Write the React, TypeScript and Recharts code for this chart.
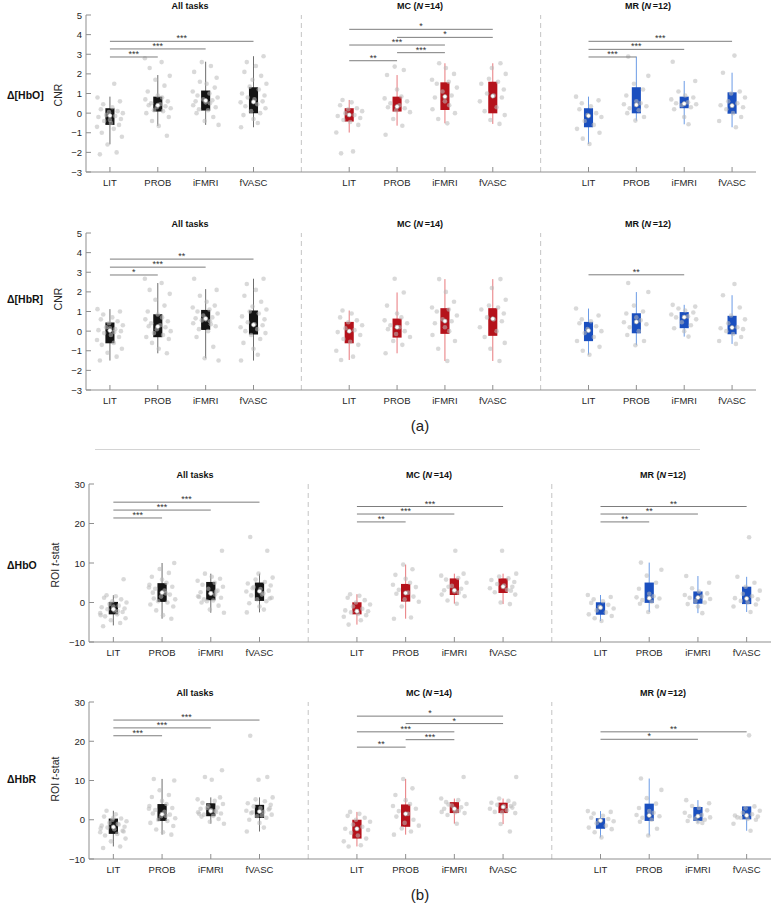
import React from 'react';
import { ComposedChart, XAxis, YAxis, Scatter, ReferenceLine, ReferenceArea } from 'recharts';

const FONT = '"Liberation Sans", Arial, Helvetica, sans-serif';
const CATEGORIES = ['LIT', 'PROB', 'iFMRI', 'fVASC'];
const GROUP_TITLES = [
  { name: 'All tasks', n: null },
  { name: 'MC', n: 14 },
  { name: 'MR', n: 12 },
];
const CNR_TICKS = [-3, -2, -1, 0, 1, 2, 3, 4, 5];
const TSTAT_TICKS = [-10, 0, 10, 20, 30];
const JITTER = [-0.21, 0.14, -0.05, 0.25, -0.17, 0.08, -0.27, 0.19, 0.02, -0.12, 0.23, -0.24, 0.11, -0.08, 0.27, -0.02, 0.16, -0.19, 0.05, -0.14, 0.21, -0.26, 0.09, 0.0];

// box stats [whiskerLow, q1, median, q3, whiskerHigh]; order All(LIT,PROB,iFMRI,fVASC), MC(...), MR(...)
const HBO_CNR_BOX = [
  [-1.59, -0.6, -0.13, 0.25, 0.84], [-0.65, 0.08, 0.4, 0.84, 1.94], [-0.6, 0.13, 0.64, 1.15, 2.62], [-0.72, -0.01, 0.57, 1.32, 2.9],
  [-0.99, -0.43, -0.09, 0.25, 0.67], [-0.64, 0.08, 0.33, 0.84, 1.94], [-0.52, 0.16, 0.84, 1.57, 2.54], [-0.55, -0.01, 0.87, 1.6, 2.54],
  [-1.57, -0.72, -0.14, 0.25, 0.84], [-0.38, -0.01, 0.42, 1.32, 2.88], [-0.57, 0.25, 0.48, 0.84, 1.64], [-0.72, -0.03, 0.38, 1.06, 2.06],
];
const HBO_CNR_PTS = [
  [-2.1, -2.0, -1.6, -1.2, -1.0, -0.8, -0.7, -0.6, -0.5, -0.4, -0.3, -0.2, -0.15, -0.1, 0.0, 0.05, 0.1, 0.2, 0.3, 0.45, 0.6, 0.8, 1.5, -0.35],
  [-1.15, -0.65, -0.4, -0.2, 0.0, 0.1, 0.15, 0.25, 0.3, 0.35, 0.4, 0.45, 0.5, 0.6, 0.7, 0.8, 0.9, 1.1, 1.4, 1.7, 1.9, 2.3, 2.6, 2.8],
  [-0.6, -0.4, -0.2, 0.0, 0.15, 0.2, 0.3, 0.4, 0.5, 0.55, 0.6, 0.65, 0.7, 0.8, 0.9, 1.0, 1.1, 1.3, 1.5, 1.6, 1.8, 2.1, 2.4, 2.6],
  [-0.72, -0.5, -0.3, -0.1, 0.0, 0.1, 0.25, 0.35, 0.45, 0.55, 0.6, 0.7, 0.8, 0.9, 1.0, 1.2, 1.35, 1.5, 1.7, 1.9, 2.1, 2.4, 2.6, 2.9],
  [-2.05, -1.95, -0.99, -0.6, -0.45, -0.35, -0.25, -0.15, -0.1, 0.0, 0.1, 0.2, 0.25, 0.4, 0.55, 0.67],
  [-1.1, -0.64, -0.3, 0.05, 0.15, 0.25, 0.3, 0.4, 0.5, 0.6, 0.75, 0.85, 1.2, 1.94, 2.2, 2.37],
  [-0.52, -0.3, 0.0, 0.2, 0.4, 0.6, 0.8, 0.9, 1.1, 1.3, 1.5, 1.6, 1.7, 2.0, 2.3, 2.54],
  [-0.55, -0.35, -0.1, 0.1, 0.3, 0.6, 0.8, 0.9, 1.0, 1.2, 1.5, 1.6, 1.75, 2.0, 2.3, 2.54],
  [-1.57, -1.3, -1.0, -0.8, -0.6, -0.4, -0.2, -0.1, 0.0, 0.2, 0.35, 0.5, 0.65, 0.84],
  [-0.38, -0.2, 0.0, 0.15, 0.25, 0.35, 0.45, 0.5, 0.6, 0.9, 1.2, 1.5, 1.9, 2.88],
  [-0.57, -0.2, 0.2, 0.3, 0.4, 0.45, 0.5, 0.55, 0.7, 0.8, 0.9, 1.1, 1.64, 2.62],
  [-0.72, -0.4, -0.2, 0.0, 0.2, 0.3, 0.4, 0.5, 0.6, 0.8, 1.0, 1.1, 2.06, 2.93],
];
// significance [group, fromCategory, toCategory, y, label]
const HBO_CNR_SIG = [
  [0, 0, 1, 2.86, '***'], [0, 0, 2, 3.27, '***'], [0, 0, 3, 3.66, '***'],
  [1, 0, 1, 2.67, '**'], [1, 1, 2, 3.08, '***'], [1, 0, 2, 3.47, '***'], [1, 1, 3, 3.86, '*'], [1, 0, 3, 4.27, '*'],
  [2, 0, 1, 2.86, '***'], [2, 0, 2, 3.25, '***'], [2, 0, 3, 3.66, '***'],
];

const HBR_CNR_BOX = [
  [-1.5, -0.62, 0.03, 0.44, 1.12], [-1.13, -0.31, 0.23, 0.86, 2.45], [-1.38, 0.06, 0.64, 1.08, 2.14], [-1.5, -0.17, 0.32, 1.05, 2.67],
  [-1.47, -0.62, 0.0, 0.47, 1.05], [-1.13, -0.33, 0.2, 0.64, 1.97], [-1.52, -0.14, 0.51, 1.17, 2.65], [-1.52, -0.24, 0.63, 1.17, 2.65],
  [-1.2, -0.51, 0.03, 0.47, 1.15], [-0.72, -0.11, 0.47, 0.91, 1.99], [-0.28, 0.15, 0.71, 0.97, 1.34], [-0.65, -0.16, 0.18, 0.78, 1.83],
];
const HBR_CNR_PTS = [
  [-1.5, -1.3, -1.1, -0.9, -0.7, -0.6, -0.45, -0.3, -0.2, -0.1, 0.0, 0.05, 0.1, 0.2, 0.3, 0.4, 0.5, 0.6, 0.7, 0.85, 1.0, 1.12, -0.05, 0.15],
  [-1.13, -0.9, -0.6, -0.4, -0.3, -0.2, -0.1, 0.0, 0.1, 0.2, 0.25, 0.3, 0.4, 0.5, 0.6, 0.7, 0.85, 1.0, 1.3, 1.6, 1.9, 2.1, 2.45, 2.67],
  [-1.5, -1.38, -0.8, -0.3, 0.0, 0.1, 0.25, 0.4, 0.5, 0.6, 0.65, 0.7, 0.8, 0.9, 1.0, 1.1, 1.2, 1.3, 1.5, 1.8, 2.1, 2.67, 0.35, 0.55],
  [-1.5, -1.2, -0.9, -0.6, -0.4, -0.2, -0.1, 0.0, 0.1, 0.2, 0.3, 0.35, 0.45, 0.6, 0.75, 0.9, 1.0, 1.1, 1.25, 1.5, 1.8, 2.1, 2.4, 2.67],
  [-1.47, -1.3, -1.0, -0.7, -0.55, -0.4, -0.2, -0.05, 0.05, 0.15, 0.3, 0.45, 0.55, 0.7, 0.9, 1.05],
  [-1.13, -0.7, -0.5, -0.3, -0.15, 0.0, 0.1, 0.2, 0.3, 0.4, 0.55, 0.7, 0.9, 1.3, 1.97, 2.67],
  [-1.52, -0.9, -0.5, -0.2, 0.0, 0.2, 0.4, 0.5, 0.6, 0.8, 1.0, 1.1, 1.2, 1.5, 2.0, 2.65],
  [-1.52, -0.9, -0.6, -0.3, 0.0, 0.2, 0.5, 0.6, 0.7, 0.9, 1.1, 1.2, 1.3, 1.6, 2.2, 2.65],
  [-1.2, -1.0, -0.8, -0.5, -0.3, -0.1, 0.0, 0.1, 0.25, 0.4, 0.5, 0.6, 0.8, 1.15],
  [-0.72, -0.5, -0.2, 0.0, 0.2, 0.35, 0.45, 0.55, 0.7, 0.9, 1.0, 1.3, 1.99, 2.45],
  [-0.28, 0.0, 0.15, 0.3, 0.45, 0.6, 0.7, 0.75, 0.85, 0.95, 1.05, 1.15, 1.25, 1.34],
  [-0.65, -0.5, -0.3, -0.15, 0.0, 0.1, 0.15, 0.2, 0.4, 0.6, 0.8, 1.2, 1.83, 2.4],
];
const HBR_CNR_SIG = [
  [0, 0, 1, 2.86, '*'], [0, 0, 2, 3.26, '***'], [0, 0, 3, 3.67, '**'],
  [2, 0, 2, 2.87, '**'],
];

const HBO_T_BOX = [
  [-5.8, -3.0, -1.7, 0.15, 1.84], [-4.1, 0.15, 2.5, 4.9, 10], [-2.6, 0.57, 2.3, 5.2, 7.3], [-2.5, 0.4, 2.85, 5.05, 7.3],
  [-5.6, -3.0, -2.2, 0.06, 2.1], [-4.1, 0.23, 2.4, 4.7, 9.6], [-0.3, 1.9, 3.1, 6.1, 7.3], [-0.4, 2.4, 4.0, 6.1, 7.3],
  [-4.7, -3.1, -1.3, 0.06, 1.9], [-2.4, -0.1, 1.1, 5.05, 10.1], [-2.7, -0.3, 1.25, 2.8, 6.7], [-2.4, -0.4, 1.0, 4.0, 6.5],
];
const HBO_T_PTS = [
  [-6.0, -5.2, -4.5, -4.0, -3.5, -3.0, -2.7, -2.4, -2.0, -1.7, -1.5, -1.2, -0.8, -0.4, 0.0, 0.3, 0.8, 1.2, 1.6, 1.84, 5.9, -3.2, -2.2, -1.0],
  [-4.1, -3.2, -2.0, -1.0, -0.5, 0.0, 0.3, 0.8, 1.5, 2.0, 2.5, 3.0, 3.5, 4.0, 4.5, 5.0, 5.8, 6.5, 7.5, 8.5, 10.0, 1.0, 2.3, 3.8],
  [-2.6, -1.8, -0.8, 0.0, 0.5, 0.8, 1.2, 1.6, 2.0, 2.3, 2.6, 3.0, 3.5, 4.0, 4.5, 5.0, 5.5, 6.0, 6.5, 7.3, 13.1, 1.4, 2.8, 0.3],
  [-2.5, -1.8, -1.0, -0.2, 0.3, 0.8, 1.2, 1.8, 2.3, 2.8, 3.0, 3.4, 3.9, 4.3, 4.8, 5.2, 5.8, 6.3, 7.3, 13.1, 16.6, 2.0, 3.6, 1.0],
  [-5.6, -4.5, -3.6, -3.2, -2.9, -2.5, -2.2, -2.0, -1.6, -1.0, -0.5, 0.0, 0.6, 1.2, 1.7, 2.1],
  [-4.1, -3.8, -1.0, 0.2, 0.8, 1.5, 2.2, 2.5, 3.2, 3.9, 4.5, 5.0, 6.0, 7.0, 8.4, 9.6],
  [-0.3, 0.5, 1.6, 2.0, 2.5, 2.8, 3.1, 3.5, 4.2, 5.0, 5.8, 6.2, 6.8, 7.3, 13.1, 4.0],
  [-0.4, 0.0, 2.0, 2.6, 3.2, 3.6, 4.0, 4.3, 4.7, 5.2, 5.7, 6.1, 6.6, 7.3, 13.1, 3.0],
  [-4.7, -4.0, -3.4, -3.0, -2.5, -2.0, -1.5, -1.1, -0.6, -0.1, 0.3, 0.8, 1.4, 1.9],
  [-2.4, -1.0, -0.3, 0.2, 0.6, 1.0, 1.3, 1.6, 2.2, 3.5, 5.0, 6.8, 8.3, 10.1],
  [-2.7, -1.0, -0.4, 0.0, 0.4, 0.9, 1.2, 1.5, 1.9, 2.3, 2.8, 3.6, 5.0, 6.7],
  [-2.4, -1.0, -0.5, 0.0, 0.4, 0.8, 1.1, 1.6, 2.2, 3.0, 4.0, 5.0, 6.5, 16.5],
];
const HBO_T_SIG = [
  [0, 0, 1, 21.4, '***'], [0, 0, 2, 23.4, '***'], [0, 0, 3, 25.4, '***'],
  [1, 0, 1, 20.4, '**'], [1, 0, 2, 22.4, '***'], [1, 0, 3, 24.3, '***'],
  [2, 0, 1, 20.4, '**'], [2, 0, 2, 22.4, '**'], [2, 0, 3, 24.3, '**'],
];

const HBR_T_BOX = [
  [-6.8, -3.6, -1.85, 0.3, 2.3], [-3.8, -0.3, 1.4, 4.0, 10.4], [-1.0, 0.9, 2.2, 4.2, 5.7], [-3.0, 0.45, 2.1, 3.8, 5.7],
  [-6.8, -4.8, -2.3, 0.0, 2.0], [-3.8, -1.8, 1.5, 3.9, 10.4], [-1.0, 1.7, 2.8, 4.5, 5.4], [-1.1, 1.7, 3.25, 4.35, 5.4],
  [-4.5, -2.3, -0.2, 0.4, 2.2], [-4.0, -0.3, 1.1, 4.1, 10.5], [-0.8, -0.3, 0.9, 3.25, 5.0], [-2.8, 0.1, 1.1, 3.4, 3.4],
];
const HBR_T_PTS = [
  [-7.2, -6.8, -5.5, -4.8, -4.0, -3.6, -3.2, -2.8, -2.4, -2.0, -1.8, -1.5, -1.2, -0.8, -0.4, 0.0, 0.3, 0.8, 1.4, 2.3, -3.0, -2.2, -1.0, 0.5],
  [-3.8, -3.2, -2.5, -1.6, -0.8, -0.3, 0.0, 0.4, 0.9, 1.3, 1.6, 2.0, 2.5, 3.0, 3.5, 4.0, 4.8, 5.8, 6.3, 7.5, 10.0, 10.4, 1.0, 2.8],
  [-1.0, -0.5, 0.2, 0.8, 1.0, 1.3, 1.6, 1.9, 2.2, 2.5, 2.8, 3.1, 3.5, 4.0, 4.3, 4.8, 5.2, 5.7, 10.2, 10.9, 12.6, 1.5, 2.0, 3.0],
  [-3.0, -2.0, -0.8, 0.0, 0.5, 0.9, 1.3, 1.7, 2.0, 2.3, 2.6, 3.0, 3.4, 3.8, 4.2, 4.7, 5.2, 5.7, 10.2, 10.9, 21.4, 1.1, 1.9, 2.9],
  [-6.8, -6.5, -5.5, -4.8, -4.0, -3.3, -2.6, -2.3, -1.8, -1.2, -0.5, 0.0, 0.5, 1.0, 1.5, 2.0],
  [-3.8, -3.0, -2.2, -1.5, -0.8, 0.0, 0.8, 1.5, 2.2, 2.8, 3.5, 4.0, 5.0, 6.3, 8.0, 10.4],
  [-1.0, 1.2, 1.7, 2.0, 2.3, 2.6, 2.8, 3.2, 3.6, 4.0, 4.5, 5.0, 5.4, 10.9, 1.9, 3.9],
  [-3.0, -1.1, 1.7, 2.0, 2.4, 2.8, 3.1, 3.4, 3.8, 4.1, 4.35, 4.8, 5.4, 10.9, 1.9, 3.5],
  [-4.5, -3.2, -2.4, -2.0, -1.5, -0.9, -0.4, -0.1, 0.2, 0.5, 1.0, 1.6, 2.0, 2.2],
  [-4.0, -2.3, -0.5, 0.0, 0.5, 0.9, 1.2, 1.8, 2.2, 3.0, 4.1, 5.5, 7.6, 10.5],
  [-0.8, -0.6, -0.3, 0.0, 0.3, 0.6, 0.9, 1.2, 1.8, 2.4, 3.0, 3.5, 4.2, 5.0],
  [-2.8, -1.0, 0.0, 0.2, 0.5, 0.8, 1.1, 1.4, 1.8, 2.3, 2.9, 3.4, 0.6, 21.5],
];
const HBR_T_SIG = [
  [0, 0, 1, 21.4, '***'], [0, 0, 2, 23.4, '***'], [0, 0, 3, 25.4, '***'],
  [1, 0, 1, 18.5, '**'], [1, 1, 2, 20.4, '***'], [1, 0, 2, 22.4, '***'], [1, 1, 3, 24.5, '*'], [1, 0, 3, 26.4, '*'],
  [2, 0, 2, 20.5, '*'], [2, 0, 3, 22.4, '**'],
];

const BOX_COLORS = ['#141414', '#b5121b', '#1a4fbf'];
const WHISKER_COLORS = ['#6e6e6e', '#e8787c', '#6b9be6'];
const AXIS_COLOR = '#8f8f8f';
const X_TICKS = [0, 1, 2, 3, 5, 6, 7, 8, 10, 11, 12, 13];
const BOX_HALF = 0.095;

const pos = (i: number) => Math.floor(i / 4) * 5 + (i % 4);

const XTick = (props: any) => {
  const { x, y, payload } = props;
  const label = CATEGORIES[payload.value % 5];
  return (
    <g>
      <line x1={x} y1={y} x2={x} y2={y - 5} stroke={AXIS_COLOR} strokeWidth={1} />
      <text x={x} y={y + 10} textAnchor="middle" dominantBaseline="central" fontSize={9.5} fontFamily={FONT} fill="#262626">
        {label}
      </text>
    </g>
  );
};

const YTick = (props: any) => {
  const { x, y, payload } = props;
  const v = payload.value;
  const label = v < 0 ? '\u2212' + Math.abs(v) : String(v);
  return (
    <g>
      <line x1={x} y1={y} x2={x + 5} y2={y} stroke={AXIS_COLOR} strokeWidth={1} />
      <text x={x - 4} y={y} textAnchor="end" dominantBaseline="central" fontSize={9.5} fontFamily={FONT} fill="#262626">
        {label}
      </text>
    </g>
  );
};

const PointShape = (p: any) => <circle cx={p.cx} cy={p.cy} r={2.3} fill="#b9b9b9" fillOpacity={0.55} />;
const MeanShape = (p: any) => <circle cx={p.cx} cy={p.cy} r={2.1} fill="#ffffff" stroke="#9a9a9a" strokeWidth={0.6} />;

type RowProps = {
  plotTop: number; plotH: number; plotLeft: number; plotRight: number;
  domain: number[]; ticks: number[]; box: number[][]; pts: number[][]; sig: any[];
};

function Row({ plotTop, plotH, plotLeft, plotRight, domain, ticks, box, pts, sig }: RowProps) {
  const H = 15 + plotH + 30;
  const points: { x: number; y: number }[] = [];
  pts.forEach((arr, i) => {
    arr.forEach((v, k) => {
      points.push({ x: pos(i) + JITTER[(k + i * 7) % JITTER.length], y: v });
    });
  });
  const means = box.map((b, i) => ({ x: pos(i), y: b[2] }));
  return (
    <div style={{ position: 'absolute', left: 0, top: plotTop - 15 }}>
      <ComposedChart width={774} height={H} margin={{ top: 15, right: 774 - plotRight, left: 0, bottom: 0 }}>
        <XAxis type="number" dataKey="x" domain={[-0.5, 13.5]} ticks={X_TICKS} interval={0} allowDataOverflow
          tick={<XTick />} tickLine={false} tickSize={0} tickMargin={0} height={30} axisLine={{ stroke: AXIS_COLOR }} />
        <YAxis type="number" dataKey="y" domain={domain} ticks={ticks} interval={0} allowDataOverflow width={plotLeft}
          tick={<YTick />} tickLine={false} tickSize={0} tickMargin={0} axisLine={{ stroke: AXIS_COLOR }} />
        <ReferenceLine x={4} stroke="#c4c4c4" strokeDasharray="5 4" zIndex={50} />
        <ReferenceLine x={9} stroke="#c4c4c4" strokeDasharray="5 4" zIndex={50} />
        {box.map((b, i) => (
          <ReferenceLine key={'w' + i} segment={[{ x: pos(i), y: b[0] }, { x: pos(i), y: b[4] }]}
            stroke={WHISKER_COLORS[Math.floor(i / 4)]} strokeWidth={1} zIndex={100} />
        ))}
        {box.map((b, i) => (
          <ReferenceArea key={'b' + i} x1={pos(i) - BOX_HALF} x2={pos(i) + BOX_HALF} y1={b[1]} y2={b[3]}
            fill={BOX_COLORS[Math.floor(i / 4)]} fillOpacity={1} stroke="none" ifOverflow="visible" zIndex={200} />
        ))}
        <Scatter data={points} dataKey="y" shape={PointShape} isAnimationActive={false} zIndex={600} />
        <Scatter data={means} dataKey="y" shape={MeanShape} isAnimationActive={false} zIndex={700} />
        {sig.map((s, j) => (
          <ReferenceLine key={'s' + j} segment={[{ x: s[0] * 5 + s[1], y: s[3] }, { x: s[0] * 5 + s[2], y: s[3] }]}
            stroke="#7d7d7d" strokeWidth={1} zIndex={800}
            label={{ value: s[4], position: 'top', offset: 0, fontSize: 9, fill: '#333', fontFamily: FONT }} />
        ))}
      </ComposedChart>
    </div>
  );
}

const abs = (left: number, top: number, extra: any = {}) => ({
  position: 'absolute' as const, left, top, transform: 'translate(-50%, -50%)', whiteSpace: 'nowrap' as const,
  fontFamily: FONT, color: '#111', lineHeight: 1, ...extra,
});

function Title({ x, y, g }: { x: number; y: number; g: number }) {
  const t = GROUP_TITLES[g];
  return (
    <div style={abs(x, y, { fontSize: 9, fontWeight: 'bold' })}>
      {t.name}
      {t.n !== null ? (<> (<i>N</i>{'\u2009'}={t.n})</>) : null}
    </div>
  );
}

const ROWS = [
  { plotTop: 15, plotH: 157, plotLeft: 86, plotRight: 756, domain: [-3, 5], ticks: CNR_TICKS, box: HBO_CNR_BOX, pts: HBO_CNR_PTS, sig: HBO_CNR_SIG, titleX: [190, 420, 648], label: '\u0394[HbO]', labelY: 95, axisX: 58, axis: 'CNR' },
  { plotTop: 233, plotH: 157, plotLeft: 86, plotRight: 756, domain: [-3, 5], ticks: CNR_TICKS, box: HBR_CNR_BOX, pts: HBR_CNR_PTS, sig: HBR_CNR_SIG, titleX: [190, 420, 648], label: '\u0394[HbR]', labelY: 299, axisX: 58, axis: 'CNR' },
  { plotTop: 484, plotH: 158, plotLeft: 89, plotRight: 771, domain: [-10, 30], ticks: TSTAT_TICKS, box: HBO_T_BOX, pts: HBO_T_PTS, sig: HBO_T_SIG, titleX: [195, 429, 663], label: '\u0394HbO', labelY: 565, axisX: 55, axis: 'ROI' },
  { plotTop: 702, plotH: 157, plotLeft: 89, plotRight: 771, domain: [-10, 30], ticks: TSTAT_TICKS, box: HBR_T_BOX, pts: HBR_T_PTS, sig: HBR_T_SIG, titleX: [195, 429, 663], label: '\u0394HbR', labelY: 779, axisX: 55, axis: 'ROI' },
];

export default function App() {
  return (
    <div style={{ position: 'absolute', left: 0, top: 0, width: 774, height: 905, background: '#fff', overflow: 'hidden' }}>
      {ROWS.map((r, k) => (
        <React.Fragment key={k}>
          <Row plotTop={r.plotTop} plotH={r.plotH} plotLeft={r.plotLeft} plotRight={r.plotRight}
            domain={r.domain} ticks={r.ticks} box={r.box} pts={r.pts} sig={r.sig} />
          {r.titleX.map((tx, g) => <Title key={g} x={tx} y={r.plotTop - 9} g={g} />)}
          <div style={{ position: 'absolute', left: 7, top: r.labelY, transform: 'translateY(-50%)', fontFamily: FONT, fontWeight: 'bold', fontSize: 10.5, color: '#111', whiteSpace: 'nowrap' }}>
            {r.label}
          </div>
          <div style={abs(r.axisX, r.labelY, { fontSize: 10.5, color: '#262626', transform: 'translate(-50%, -50%) rotate(-90deg)' })}>
            {r.axis === 'CNR' ? 'CNR' : (<>ROI <i>t</i>-stat</>)}
          </div>
        </React.Fragment>
      ))}
      <div style={abs(420, 425, { fontSize: 15, color: '#222' })}>(a)</div>
      <div style={{ position: 'absolute', left: 95, top: 449, width: 605, height: 1, background: '#d4d4d4' }} />
      <div style={abs(420, 894, { fontSize: 15, color: '#222' })}>(b)</div>
    </div>
  );
}
